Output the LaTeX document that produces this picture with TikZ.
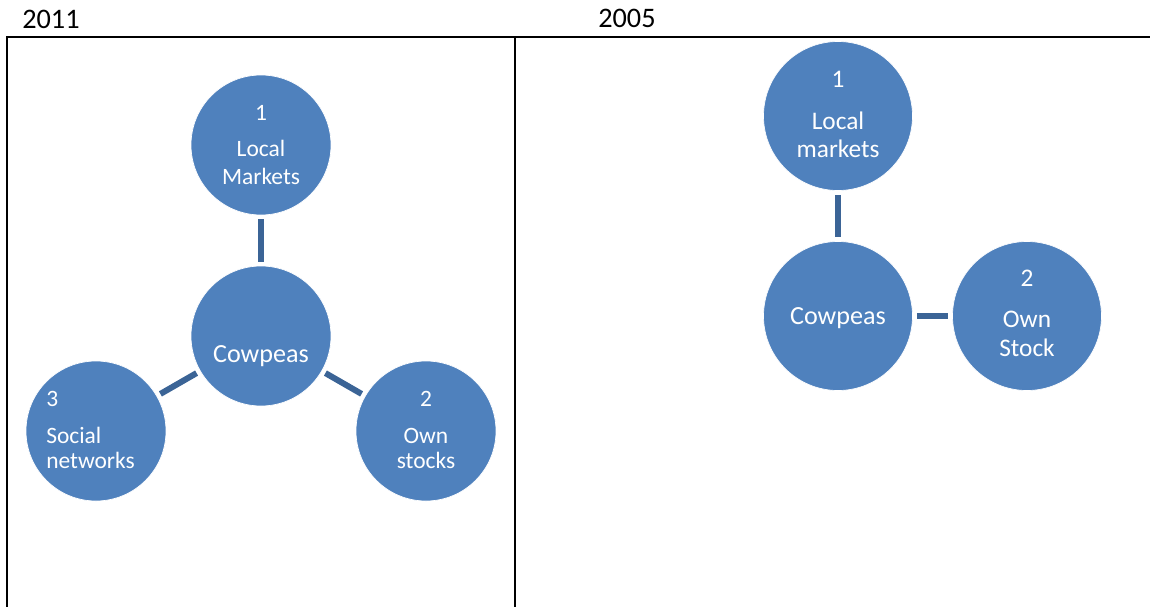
\documentclass[tikz,border=0pt]{standalone}
\usepackage{fontspec}
\setmainfont{Carlito}
\definecolor{bubfill}{RGB}{79,129,189}
\definecolor{linkcol}{RGB}{59,100,150}

\begin{document}
\begin{tikzpicture}[x=0.75pt,y=-0.75pt,every node/.style={inner sep=0pt,text=white},
    bub/.style={circle,fill=bubfill,draw=white,line width=0.5pt,minimum size=105pt},
    bigbub/.style={bub,minimum size=111.75pt},
    link/.style={draw=linkcol,line width=4.5pt,shorten >=3pt,shorten <=3pt},
    txt/.style={font=\fontsize{17.6}{20}\selectfont,anchor=base},
    txtr/.style={font=\fontsize{19}{22}\selectfont,anchor=base},
    cow/.style={font=\fontsize{19.6}{22}\selectfont,anchor=base},
    yr/.style={font=\fontsize{21.2}{24}\selectfont,anchor=base west,text=black}]
    \useasboundingbox (0,0) rectangle (1150,607);
    % table frame
    \draw[line width=1.5pt](7,607)--(7,37)--(1150,37);
    \draw[line width=1.5pt](515,37)--(515,607);
    \node[yr](y11) at (22,28){2011};
    \node[yr](y05) at (598,27.5){2005};
    % 2011
    \node[bub](mk1) at (261,145){};
    \node[bub](cw1) at (261,336){};
    \node[bub](so1) at (96,431){};
    \node[bub](os1) at (426,431){};
    \draw[link](mk1)--(cw1);
    \draw[link](cw1)--(so1);
    \draw[link](cw1)--(os1);
    \node[txt](mk1a) at (261,120.7){1};
    \node[txt](mk1b) at (261,156.7){Local};
    \node[txt](mk1c) at (261,184){Markets};
    \node[cow](cw1a) at (261,362.7){Cowpeas};
    \node[txt,anchor=base west](so1a) at (46,406){3};
    \node[txt,anchor=base west](so1b) at (46,443.3){Social};
    \node[txt,anchor=base west](so1c) at (46,468.3){networks};
    \node[txt](os1a) at (426,406){2};
    \node[txt](os1b) at (426,443){Own};
    \node[txt](os1c) at (426,468){stocks};
    % 2005
    \node[bigbub](mk2) at (838,116){};
    \node[bigbub](cw2) at (838,316){};
    \node[bigbub](os2) at (1027,316){};
    \draw[link](mk2)--(cw2);
    \draw[link](cw2)--(os2);
    \node[txtr](mk2a) at (838,87.3){1};
    \node[txtr](mk2b) at (838,129){Local};
    \node[txtr](mk2c) at (838,157.7){markets};
    \node[cow](cw2a) at (838,324){Cowpeas};
    \node[txtr](os2a) at (1027,286.7){2};
    \node[txtr](os2b) at (1027,327.7){Own};
    \node[txtr](os2c) at (1027,356){Stock};
  \end{tikzpicture}
\end{document}
